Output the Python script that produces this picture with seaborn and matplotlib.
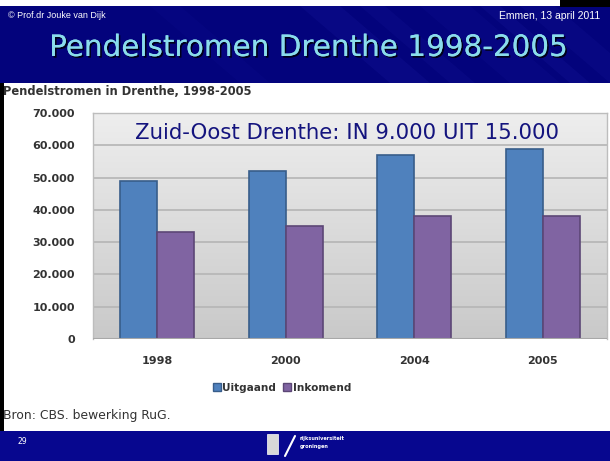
import numpy as np
import pandas as pd
import matplotlib
matplotlib.use("Agg")
import matplotlib.pyplot as plt
import matplotlib.patheffects as pe
from matplotlib.patches import Rectangle, Polygon
from matplotlib.colors import LinearSegmentedColormap
import seaborn as sns

# ---- data ----
years = ["1998", "2000", "2004", "2005"]
uitgaand = [49000, 52000, 57000, 59000]
inkomend = [33000, 35000, 38000, 38000]
series_names = ["Uitgaand", "Inkomend"]
y_ticks = [0, 10000, 20000, 30000, 40000, 50000, 60000, 70000]
y_ticklabels = ["0", "10.000", "20.000", "30.000", "40.000", "50.000", "60.000", "70.000"]

df = pd.DataFrame({
    "jaar": years * 2,
    "serie": [series_names[0]] * len(years) + [series_names[1]] * len(years),
    "waarde": uitgaand + inkomend,
})

sns.set_theme(style="white")
plt.rcParams["font.family"] = ["DejaVu Sans"]

W, H = 610, 461
fig = plt.figure(figsize=(6.10, 4.61), dpi=100)
fig.patch.set_facecolor("white")

def fx(x):
    return x / W

def fy(y):
    return 1 - y / H

# background axes for slide decoration
bg = fig.add_axes([0, 0, 1, 1], zorder=-10)
bg.set_xlim(0, W)
bg.set_ylim(H, 0)
bg.axis("off")

# header
bg.add_patch(Rectangle((0, 6), W, 77, facecolor="#03037c", edgecolor="none"))
for x0, wdt, a in [(300, 40, 0.10), (360, 25, 0.08), (420, 50, 0.07), (480, 20, 0.10), (520, 35, 0.08), (150, 30, 0.05)]:
    bg.add_patch(Polygon([(x0, 6), (x0 + wdt, 6), (x0 + wdt + 90, 83), (x0 + 90, 83)],
                         facecolor="#3a3ad0", alpha=a, edgecolor="none"))
bg.add_patch(Rectangle((560, 0), 50, 7, facecolor="black", edgecolor="none"))
# footer
bg.add_patch(Rectangle((0, 431), W, 30, facecolor="#07078f", edgecolor="none"))
# left border
bg.add_patch(Rectangle((0, 83), 4, 348, facecolor="black", edgecolor="none"))

# header texts
fig.text(fx(8), fy(16), "\u00a9 Prof.dr Jouke van Dijk", color="white", fontsize=6.5,
         family="Liberation Sans", va="center", ha="left")
fig.text(fx(600), fy(16), "Emmen, 13 april 2011", color="white", fontsize=7.5,
         family="Liberation Sans", va="center", ha="right")
fig.text(fx(308), fy(48), "Pendelstromen Drenthe 1998-2005", color="#8adcec", fontsize=21.2,
         va="center", ha="center",
         path_effects=[pe.withSimplePatchShadow(offset=(1.2, -1.2), shadow_rgbFace="black", alpha=0.8),
                       pe.Normal()])

# chart subtitle and source
fig.text(fx(3), fy(91), "Pendelstromen in Drenthe, 1998-2005", color="#333333", fontsize=8.3,
         fontweight="bold", va="center", ha="left")
fig.text(fx(3), fy(416), "Bron: CBS. bewerking RuG.", color="#333333", fontsize=8.9,
         va="center", ha="left")

# footer texts / logo approximation
fig.text(fx(18), fy(441), "29", color="white", fontsize=5.5, va="center", ha="left")
bg.add_patch(Rectangle((267, 434), 11, 20, facecolor="#d8d8d8", edgecolor="white", lw=0.5))
bg.plot([285, 295], [456, 436], color="white", lw=1.5)
fig.text(fx(300), fy(438), "rijksuniversiteit", color="white", fontsize=3.6, fontweight="bold",
         va="center", ha="left")
fig.text(fx(300), fy(446), "groningen", color="white", fontsize=3.6, fontweight="bold",
         va="center", ha="left")

# ---- main chart ----
left, right, top, bottom = 93, 607, 113, 339
ax = fig.add_axes([fx(left), fy(bottom), fx(right - left), (bottom - top) / H])

# gradient background
grad = np.linspace(0, 1, 256).reshape(-1, 1)
cmap = LinearSegmentedColormap.from_list("g", ["#c9c9c9", "#eeeeee"])
ax.imshow(grad, aspect="auto", cmap=cmap, origin="lower",
          extent=[-0.5, len(years) - 0.5, 0, 70000], zorder=0)

pal = {"Uitgaand": "#4f81bd", "Inkomend": "#8064a2"}
sns.barplot(data=df, x="jaar", y="waarde", hue="serie", palette=pal, width=0.575,
            ax=ax, legend=False, zorder=3, saturation=1)
edge = {"Uitgaand": "#385d8a", "Inkomend": "#5c4776"}
for i, cont in enumerate(ax.containers):
    for bar in cont:
        bar.set_edgecolor(edge[series_names[i]])
        bar.set_linewidth(1.2)

ax.set_xlim(-0.5, len(years) - 0.5)
ax.set_ylim(0, 70000)
ax.set_yticks(y_ticks)
ax.set_yticklabels(y_ticklabels)
for yv in y_ticks[1:]:
    ax.axhline(yv, color="#b5b5b5", lw=1.2, zorder=1)
ax.axhline(0, color="#a8a8a8", lw=1.5, zorder=4)
ax.set_xlabel("")
ax.set_ylabel("")
for s in ["top", "right", "left"]:
    ax.spines[s].set_color("#bdbdbd")
    ax.spines[s].set_linewidth(1.0)
ax.spines["bottom"].set_visible(False)
ax.tick_params(axis="y", length=0, pad=13, labelsize=8, labelcolor="#333333")
ax.tick_params(axis="x", length=0, pad=12, labelsize=8, labelcolor="#333333")
for lbl in ax.get_yticklabels() + ax.get_xticklabels():
    lbl.set_fontweight("bold")

ax.text((347 - left) / (right - left), (bottom - 133) / (bottom - top),
        "Zuid-Oost Drenthe: IN 9.000 UIT 15.000", transform=ax.transAxes,
        color="#14147e", fontsize=15.3, ha="center", va="center", zorder=6)

# legend
handles = [Rectangle((0, 0), 1, 1, facecolor=pal[n], edgecolor=edge[n], lw=1.0) for n in series_names]
leg = fig.legend(handles, series_names, loc="center", bbox_to_anchor=(fx(282), fy(388)),
                 ncol=2, frameon=False, handlelength=0.75, handleheight=0.75, handletextpad=0.15,
                 columnspacing=0.7, prop={"size": 7.6, "weight": "bold"})
for t in leg.get_texts():
    t.set_color("#333333")

fig.savefig("out.png", dpi=100)
